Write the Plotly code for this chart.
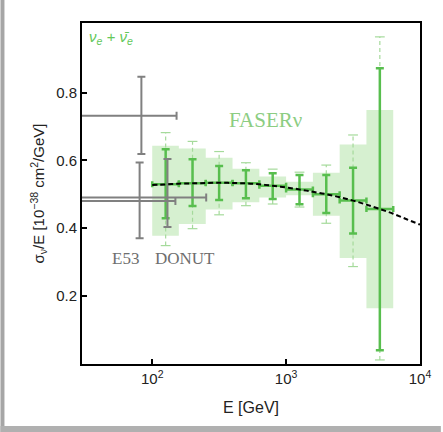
import plotly.graph_objects as go

# ---------------- data ----------------
bin_lo = [100, 158, 251, 398, 631, 1000, 1585, 2512, 3981]
bin_hi = [158, 251, 398, 631, 1000, 1585, 2512, 3981, 6310]
e_center = [126, 200, 316, 501, 794, 1259, 1995, 3162, 5012]
sigma = [0.529, 0.532, 0.534, 0.532, 0.525, 0.514, 0.500, 0.481, 0.456]
stat_lo = [0.429, 0.465, 0.483, 0.488, 0.486, 0.470, 0.444, 0.384, 0.039]
stat_hi = [0.633, 0.603, 0.583, 0.571, 0.562, 0.557, 0.557, 0.578, 0.872]
box_lo = [0.377, 0.412, 0.455, 0.476, 0.490, 0.497, 0.436, 0.311, 0.163]
box_hi = [0.643, 0.635, 0.608, 0.575, 0.552, 0.537, 0.563, 0.647, 0.749]
dash_lo = [0.348, 0.398, 0.439, 0.466, 0.471, 0.462, 0.414, 0.286, 0.010]
dash_hi = [0.682, 0.656, 0.626, 0.593, 0.574, 0.565, 0.586, 0.675, 0.965]

curve_e = [100, 126, 158, 200, 251, 316, 398, 501, 631, 794, 1000, 1259,
           1585, 1995, 2512, 3162, 3981, 5012, 6310, 7943, 10000]
curve_s = [0.527, 0.529, 0.531, 0.532, 0.533, 0.534, 0.533, 0.532, 0.529,
           0.525, 0.520, 0.514, 0.507, 0.500, 0.491, 0.481, 0.469, 0.456,
           0.442, 0.426, 0.410]

grey_e = [83, 80.5, 130]
grey_s = [0.732, 0.480, 0.490]
grey_ylo = [0.619, 0.370, 0.403]
grey_yhi = [0.847, 0.594, 0.604]
grey_elo = [15, 15, 15]
grey_ehi = [152, 149, 253]

x_tickvals = [100, 1000, 10000]
x_ticktext = ["10<sup>2</sup>", "10<sup>3</sup>", "10<sup>4</sup>"]
y_tickvals = [0.2, 0.4, 0.6, 0.8]
y_ticktext = ["0.2", "0.4", "0.6", "0.8"]

GREEN = "rgb(88,190,78)"
GREEN_LIGHT = "rgb(165,218,155)"
BOX = "rgb(214,240,208)"
GREY = "rgb(128,128,128)"

fig = go.Figure()

# shaded boxes
bx, by = [], []
for lo, hi, yl, yh in zip(bin_lo, bin_hi, box_lo, box_hi):
    bx += [lo, hi, hi, lo, lo, None]
    by += [yl, yl, yh, yh, yl, None]
fig.add_trace(go.Scatter(x=bx, y=by, mode="lines", fill="toself",
                         fillcolor=BOX, line=dict(width=0), hoverinfo="skip",
                         showlegend=False))

# dashed light error bars
dx, dy = [], []
for e, yl, yh in zip(e_center, dash_lo, dash_hi):
    dx += [e, e, None]
    dy += [yl, yh, None]
fig.add_trace(go.Scatter(x=dx, y=dy, mode="lines",
                         line=dict(color=GREEN_LIGHT, width=1.2, dash="4px,3px"),
                         showlegend=False, hoverinfo="skip"))
fig.add_trace(go.Scatter(x=e_center + e_center, y=dash_lo + dash_hi, mode="markers",
                         marker=dict(symbol="line-ew", size=7,
                                     line=dict(color=GREEN_LIGHT, width=1.2)),
                         showlegend=False, hoverinfo="skip"))

# solid green error bars
fig.add_trace(go.Scatter(
    x=e_center, y=sigma, mode="markers",
    marker=dict(size=0.1, color=GREEN),
    error_y=dict(type="data", symmetric=False,
                 array=[h - s for h, s in zip(stat_hi, sigma)],
                 arrayminus=[s - l for s, l in zip(sigma, stat_lo)],
                 color=GREEN, thickness=2.5, width=4),
    error_x=dict(type="data", symmetric=False,
                 array=[h - e for h, e in zip(bin_hi, e_center)],
                 arrayminus=[e - l for e, l in zip(e_center, bin_lo)],
                 color=GREEN, thickness=2.5, width=3),
    showlegend=False, hoverinfo="skip"))

# grey E53 / DONUT points
fig.add_trace(go.Scatter(
    x=grey_e, y=grey_s, mode="markers",
    marker=dict(size=0.1, color=GREY),
    error_y=dict(type="data", symmetric=False,
                 array=[h - s for h, s in zip(grey_yhi, grey_s)],
                 arrayminus=[s - l for s, l in zip(grey_s, grey_ylo)],
                 color=GREY, thickness=2, width=4),
    error_x=dict(type="data", symmetric=False,
                 array=[h - e for h, e in zip(grey_ehi, grey_e)],
                 arrayminus=[e - l for e, l in zip(grey_e, grey_elo)],
                 color=GREY, thickness=2, width=4),
    showlegend=False, hoverinfo="skip"))

# theory curve
fig.add_trace(go.Scatter(x=curve_e, y=curve_s, mode="lines",
                         line=dict(color="black", width=2, dash="5px,3px",
                                   shape="spline"),
                         showlegend=False, hoverinfo="skip"))

W, H = 443, 432
ml, mr, mt, mb = 82, 21, 23, 68
pw, ph = W - ml - mr, H - mt - mb


def px2paper_x(px):
    return (px - ml) / pw


def px2paper_y(py):
    return (H - mb - py) / ph


shapes = [
    dict(type="rect", xref="paper", yref="paper", layer="below",
         x0=px2paper_x(0), x1=px2paper_x(4), y0=px2paper_y(432), y1=px2paper_y(0),
         fillcolor="rgb(166,166,166)", line=dict(width=0)),
    dict(type="rect", xref="paper", yref="paper", layer="below",
         x0=px2paper_x(0), x1=px2paper_x(443), y0=px2paper_y(432), y1=px2paper_y(426),
         fillcolor="rgb(176,176,176)", line=dict(width=0)),
]

serif = "Liberation Serif"
annotations = [
    dict(x=2.848, y=0.719, xref="x", yref="y", text="FASERν", showarrow=False,
         font=dict(family=serif, size=21, color="rgb(140,205,130)")),
    dict(x=1.802, y=0.311, xref="x", yref="y", text="E53", showarrow=False,
         font=dict(family=serif, size=17, color="rgb(110,110,110)")),
    dict(x=2.247, y=0.311, xref="x", yref="y", text="DONUT", showarrow=False,
         font=dict(family=serif, size=17, color="rgb(110,110,110)")),
    dict(x=1.513, y=0.962, xref="x", yref="y", xanchor="left",
         text="<i>ν<sub>e</sub> + ν\u0304<sub>e</sub></i>", showarrow=False,
         font=dict(family="Liberation Sans", size=15, color="rgb(100,200,90)")),
]

fig.update_layout(
    width=W, height=H,
    margin=dict(l=ml, r=mr, t=mt, b=mb, pad=0),
    paper_bgcolor="white", plot_bgcolor="white",
    shapes=shapes, annotations=annotations,
    font=dict(family="Liberation Sans", color="#222"),
    xaxis=dict(type="log", range=[1.4755, 4.0], tickvals=x_tickvals,
               ticktext=x_ticktext, ticks="inside", ticklen=5, tickwidth=1.5,
               tickcolor="black", showline=True, linecolor="black", linewidth=2,
               mirror=True, showgrid=False, zeroline=False,
               tickfont=dict(size=15),
               title=dict(text="E [GeV]", font=dict(size=16), standoff=16)),
    yaxis=dict(range=[-0.002, 1.006], tickvals=y_tickvals, ticktext=y_ticktext,
               ticks="inside", ticklen=5, tickwidth=1.5, tickcolor="black",
               showline=True, linecolor="black", linewidth=2, mirror=True,
               showgrid=False, zeroline=False, tickfont=dict(size=15),
               title=dict(text="σ<sub>ν</sub>/E [10<sup>−38</sup> cm<sup>2</sup>/GeV]",
                          font=dict(size=15), standoff=8)),
)

fig.write_html("out.html")
